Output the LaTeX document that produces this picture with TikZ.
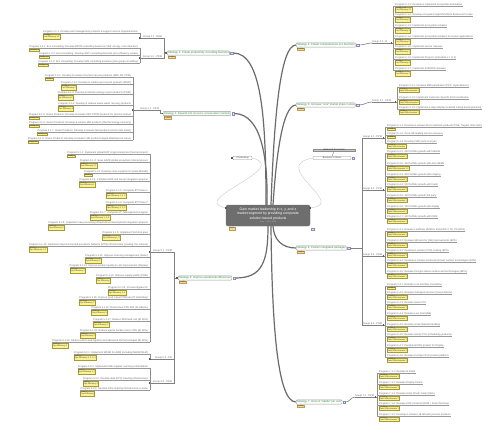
\documentclass[tikz,border=0pt]{standalone}
\usepackage{fontspec}
\setmainfont{Liberation Sans}
\definecolor{tagfill}{HTML}{FAF39A}
\definecolor{tagedge}{HTML}{A89C30}
\definecolor{stagfill}{HTML}{F3D79B}
\definecolor{stagedge}{HTML}{C49A4E}
\definecolor{stratgreen}{HTML}{2E8B2E}
\definecolor{cfill}{HTML}{6E6E6E}
\tikzset{
  prog/.style={font=\fontsize{2.5}{2.8}\selectfont, text=black!60, inner sep=0.15pt, outer sep=0pt},
  tagb/.style={font=\fontsize{2}{2.3}\selectfont, fill=tagfill, draw=tagedge, line width=0.35pt, inner sep=0.55pt, align=left, text=black!75},
  pline/.style={draw=black!40, line width=0.35pt},
  gline/.style={draw=black!50, line width=0.45pt},
  brk/.style={draw=black!45, line width=0.55pt},
  conn/.style={draw=black!50, line width=0.6pt},
  strat/.style={draw=black!40, fill=white, rounded corners=0.8pt, line width=0.4pt, font=\fontsize{2.7}{3}\selectfont, text=stratgreen, inner sep=0.8pt},
  stag/.style={fill=stagfill, draw=stagedge, line width=0.3pt, font=\fontsize{1.9}{2.1}\selectfont, inner sep=0.5pt, text=black!75},
  mainl/.style={draw=black!58, line width=1.2pt},
  thinl/.style={draw=black!18, line width=0.5pt},
  sqr/.style={fill=black!65, minimum size=1.8pt, inner sep=0pt, outer sep=0pt},
  icn/.style={fill=blue!12, draw=blue!35!black!45, line width=0.25pt, minimum size=2.6pt, inner sep=0pt},
  posn/.style={draw=black!45, fill=white, line width=0.35pt, rounded corners=0.5pt, font=\fontsize{2.4}{2.7}\selectfont, text=black!70, inner sep=0.6pt},
}
\newcommand{\LProg}[5]{%
  \node[prog, anchor=south east] (#1) at ({#2-2},#3) {#4};
  \node[tagb, anchor=north west] (#1t) at ([yshift=-0.5pt]#1.south west) {#5};
  \draw[pline] (#1.south west) -- (#2,#3);
}
\newcommand{\RProg}[5]{%
  \node[prog, anchor=south west] (#1) at ({#2+2},#3) {#4};
  \node[tagb, anchor=north west] (#1t) at ([yshift=-0.5pt]#1.south west) {#5};
  \draw[pline] (#2,#3) -- (#1.south east);
}
\newcommand{\LGrp}[5]{%
  \node[prog, anchor=south east] (#1) at (#3,#4) {#5};
  \draw[gline] (#2,#4) -- (#1.south east);
  \node[sqr] (#1s) at (#2,#4) {};
}
\newcommand{\RGrp}[5]{%
  \node[prog, anchor=south west] (#1) at (#2,#4) {#5};
  \draw[gline] (#1.south west) -- (#3,#4);
  \node[sqr] (#1s) at ({#3-1.5},#4) {};
}
\newcommand{\Strat}[4]{%
  \node[strat, anchor=west] (#1) at (#2,#3) {#4};
  \node[stag, anchor=north west] (#1t) at ([xshift=0.8pt,yshift=-0.5pt]#1.south west) {Enabler};
  \node[icn] (#1ic) at ([xshift=2pt]#1.east) {};
}
\begin{document}
\begin{tikzpicture}[x=1pt,y=-1pt]
\useasboundingbox (0,0) rectangle (500,431);
\fill[white] (0,0) rectangle (500,431);

% ---------- central node ----------
\node[fill=cfill, draw=black!55, line width=0.4pt, rounded corners=2pt, minimum width=84pt, minimum height=21pt, inner sep=0.5pt, align=center, text=white, font=\fontsize{3.5}{4.1}\selectfont] (c) at (268,215.5)
 {Gain market leadership in x, y, and z\\market segment by providing composite\\solution based products\\[-0.4pt]{\fontsize{1.9}{2.2}\selectfont\color{black!25}4 hrs \quad Feb 1 2013}};
\node[stag, anchor=north west] (ct) at ([xshift=3pt,yshift=-0.6pt]c.south west) {Key 1};
\node[icn] (cic) at ([xshift=2.5pt,yshift=-3pt]c.south east) {};
\node[sqr] (cl) at ([yshift=-3pt]c.north west) {};
\node[sqr] (cr) at ([yshift=-3pt]c.north east) {};

% ---------- side nodes ----------
\node[posn, minimum width=19pt] (pos) at (242.5,158) {Positioning};
\node[sqr] (posq) at ([xshift=-1.2pt]pos.west) {};
\node[posn, minimum width=38pt] (bc) at (332,158) {Business Criteria};
\node[icn] (bcic) at ([xshift=2pt]bc.east) {};
\node[fill=black!22, draw=black!45, line width=0.3pt, inner sep=0.5pt, minimum width=42pt, font=\fontsize{2.3}{2.6}\selectfont, text=black!80] (bs) at (334,150) {Balanced Scorecard};
\draw[black!50, line width=0.35pt] (bs.south) -- (bc.north);
\draw[thinl] (pos.east) .. controls (292,168) and (188,200) .. (cl);
\draw[thinl] (bc.west) .. controls (268,166) and (348,204) .. (cr);

% ---------- strategies ----------
\Strat{s1}{167}{53}{Strategy 1: Create productivity consulting business}
\Strat{s4}{163}{113.5}{Strategy 4: Expand into resource conservation markets}
\Strat{s5}{178}{278}{Strategy 5: Improve operational efficiencies}
\Strat{s2}{296}{45}{Strategy 2: Create comprehensive eco business}
\Strat{s3}{296}{105}{Strategy 3: Increase "core" market share in Asia}
\Strat{s6}{296}{248}{Strategy 6: Position integrated packages}
\Strat{s7}{296}{402}{Strategy 7: Grow in "Adobe" per cent}
\node[sqr] (s1q) at ([xshift=-1pt]s1.west) {};
\node[sqr] (s4q) at ([xshift=-1pt]s4.west) {};
\node[sqr] (s5q) at ([xshift=-1pt]s5.west) {};

% ---------- main connectors ----------
\draw[mainl] ([xshift=-2pt]c.north) .. controls (266,120) and (262,53) .. (s1ic.east);
\draw[mainl] ([xshift=-1pt]c.north) .. controls (268,160) and (262,114) .. (s4ic.east);
\draw[mainl] ([xshift=3pt]c.north) .. controls (274,120) and (280,45) .. (s2.west);
\draw[mainl] ([xshift=5pt]c.north) .. controls (276,160) and (282,105) .. (s3.west);
\draw[mainl] ([xshift=0pt]c.south) .. controls (268,262) and (262,278) .. (s5ic.east);
\draw[mainl] ([xshift=5pt]c.south) .. controls (274,240) and (282,248) .. (s6.west);
\draw[mainl] ([xshift=3pt]c.south) .. controls (272,330) and (278,402) .. (s7.west);
\node[icn] at (s1ic) {};
\node[icn] at (s4ic) {};
\node[icn] at (s5ic) {};

% ================= LEFT SIDE =================
% Strategy 1 groups
\LGrp{g11}{140}{162}{38}{Group 1.1 - R\&D}
\LGrp{g12}{140}{162}{58}{Group 1.2 - PDM}
\coordinate (j1) at (164.5,53);
\draw[conn] (g11.south east) -| (j1) |- (g12.south east);
\draw[conn] (j1) -- (s1q);
\draw[brk] (140,33) -- (140,38);
\draw[brk] (140,48) -- (140,63);
\LProg{p111}{140}{33}{Program 1.1.1: Develop and management products \& support service implementation}{Group 4\\Fac Efficiency 1.1}
\LProg{p121}{140}{48}{Program 1.2.1: Eco Consulting: Develop BPCM consulting business (staff, energy, cost reduction)}{Group 1.1}
\LProg{p122}{140}{55}{Program 1.2.2: Eco Consulting: Develop SMT consulting business (eco efficiency review)}{Group 1.2}
\LProg{p123}{140}{63}{Program 1.2.3: Eco Consulting: Develop SPS consulting business (plus group consulting)}{Group 1.3}

% Strategy 4 groups
\LGrp{g41}{133}{159}{110}{Group 4.1 - PPM}
\draw[conn] (g41.south east) -- ++(1.5,0) |- (s4q);
\draw[brk] (133,77) -- (133,140);
\LProg{p411}{133}{77}{Program 4.1.1: Develop \& release chemical recycle products (MAV, RF, PPM)}{Group 3}
\LProg{p412}{133}{84}{Program 4.1.2: Develop \& release gas recycle products (MGD)}{Group 2\\Fac Efficiency 2}
\LProg{p413}{133}{94}{Program 4.1.3: Develop \& release energy recycle products (PDM)}{Group 2\\Fac Efficiency 2}
\LProg{p414}{133}{105}{Program 4.1.4: Develop \& release waste water recovery products}{Group 2\\Fac Efficiency 3}
\LProg{p415}{133}{116}{Program 4.1.5: Green Products: Develop \& release NET PPDM products for (enviro) market}{Group 3.1}
\LProg{p416}{133}{124}{Program 4.1.6: Green Products: Develop \& release SMI products (thermal energy recovery)}{Group 3.2}
\LProg{p417}{133}{132}{Program 4.1.7: Green Products: Develop \& release NHI products (smart safe mode)}{Group 3.3}
\LProg{p418}{133}{140}{Program 4.1.8: Green Products: Develop \& release LNR products (liquid abatement \& reuse)}{Group 3.4}

% Strategy 5 groups
\LGrp{g51}{150}{172}{252}{Group 5.1 - PPM}
\LGrp{g52}{150}{172}{359}{Group 5.2 - PD}
\LGrp{g53}{150}{172}{383}{Group 5.3 - PDM}
\draw[conn] (g51.south east) -- (174,252) -- (174,383) -- (g53.south east);
\draw[conn] (174,359) -- (g52.south east);
\draw[conn] (174,278) -- (s5q);
\draw[brk] (150,154) -- (150,342);
\draw[brk] (150,354) -- (150,359);
\draw[brk] (150,368) -- (150,390);
\LProg{p511}{150}{154}{Program 5.1.1: Implement global ERP single Enterprise (Internal project)}{Group 4}
\LProg{p512}{150}{162}{Program 5.1.2: Grow SAPR global ecosystem internal project}{Goal 14\\Ops Efficiency 2.1}
\LProg{p513}{150}{173}{Program 5.1.3: Develop class suppliers for (ease MGSM)}{Goal 14}
\LProg{p514}{150}{181}{Program 5.1.4: Complete ERP and server integration projects}{Goal 14\\Ops Efficiency 1}
\LProg{p515}{150}{192}{Program 5.1.5: Complete BT Phase 1}{Goal 14\\Ops Efficiency 1, 2, 3}
\LProg{p516}{150}{204}{Program 5.1.6: Complete BT Phase 2}{Goal 14\\Ops Efficiency 1, 2, 3}
\LProg{p517}{150}{214}{Program 5.1.7: Complete (IT) Management program}{Goal 14\\Ops Efficiency 1, 2, 3}
\LProg{p518}{150}{224}{Program 5.1.8: Implement new processing infrastructure development integration projects}{Goal 14\\Ops Efficiency 2}
\LProg{p519}{150}{234}{Program 5.1.9: Implement Tech Ent area}{Goal 14\\Ops Efficiency 1, 2}
\LProg{p5110}{150}{246}{Program 5.1.10: Implement Supt Connected processes Network (MTN) Infrastructure (reading, the internal)}{Goal 14\\Ops Efficiency 1, 2}
\LProg{p5111}{150}{257}{Program 5.1.11: Improve inventory management (Asian)}{Goal 14\\Ops Efficiency 1}
\LProg{p5112}{150}{267}{Program 5.1.12: Improve product quality \& cost improvement (Display)}{Goal 14\\Ops Efficiency 2}
\LProg{p5113}{150}{277}{Program 5.1.13: Improve supply quality (PRM)}{Goal 3\\Ops Efficiency}
\LProg{p5114}{150}{289}{Program 5.1.14: Process Bypass IP}{Goal 14\\Ops Efficiency 2, 4}
\LProg{p5115}{150}{299}{Program 5.1.15: Improve (red) output PRB rate (IT-stretching)}{Goal 14\\Ops Efficiency 2}
\LProg{p5116}{150}{309}{Program 5.1.16: Restructure PSS-PMI (SI-Alberto)}{Goal 14\\Ops Efficiency 2}
\LProg{p5117}{150}{321}{Program 5.1.17: Reduce 30W lead cost (EI 80\%)}{Goal 14\\Ops Efficiency 1}
\LProg{p5118}{150}{332}{Program 5.1.18: Reduce agents burden rate to 30\% (EI 80\%)}{Goal 14\\Ops Efficiency 2}
\LProg{p5119}{150}{342}{Program 5.1.19: Reduce end to end logistics and advanced PM technologies (EI 80\%)}{Goal 14\\Ops Efficiency 2}
\LProg{p521}{150}{354}{Program 5.2.1: Implement MAXM for ARM (including MAXM MLM)}{Goal 14\\Ops Efficiency 1, 2, 3, 4}
\LProg{p531}{150}{368}{Program 5.3.1: Implement Multi-supplier sourcing at Rotterdam}{Goal 3\\Ops Efficiency 1, 2}
\LProg{p532}{150}{380}{Program 5.3.2: Develop data (DFS) cleaning infrastructure}{Goal 3\\Ops Efficiency 2}
\LProg{p533}{150}{390}{Program 5.3.3: Develop DFS cleaning infrastructure in Asian}{Goal 3\\Ops Efficiency}

% ================= RIGHT SIDE =================
% Strategy 2
\RGrp{g21}{372}{393}{43}{Group 2.1 - R}
\draw[conn] (s2ic.east) to[out=0,in=180] (g21.south west);
\draw[brk] (393,6) -- (393,70);
\RProg{p211}{393}{6}{Program 2.1.1: Develop \& implement ecosystem Automation}{Group 2.1.6\\Fac Efficiency 2.1}
\RProg{p212}{393}{16}{Program 2.1.2: Develop ecosystem Algorithm/Work Business Process}{Group 2\\Fac Efficiency 2}
\RProg{p213}{393}{27}{Program 2.1.3: Implement ecosystem releases}{Group 2\\Fac Efficiency 1}
\RProg{p214}{393}{38}{Program 2.1.4: Implement ecosystem releases for sensor applications}{Group 2\\Fac Efficiency 2}
\RProg{p215}{393}{48}{Program 2.1.5: Implement sensor releases}{Group 2\\Fac Efficiency 1}
\RProg{p216}{393}{59}{Program 2.1.6: Implement Project x (transition x 1 to 2)}{Group 2\\Fac Efficiency 2}
\RProg{p217}{393}{70}{Program 2.1.7: Implement 3000SSD releases}{Group 2\\Fac Efficiency 1}

% Strategy 3
\RGrp{g31}{372}{397}{102}{Group 3.1 - PPM}
\draw[conn] (s3ic.east) to[out=0,in=180] (g31.south west);
\draw[brk] (397,87) -- (397,109);
\RProg{p311}{397}{87}{Program 3.1.1: Increase MMI penetration (PPC, Hymo Motors)}{Group 5\\Sales Effectiveness 1}
\RProg{p312}{397}{99}{Program 3.1.2: Implement Customer Specific Parts localization}{Group 5\\Sales Effectiveness 2}
\RProg{p313}{397}{109}{Program 3.1.3: Implement 4-align display localized 4-Engl bar/engineering}{Group 5\\Sales Effectiveness 1}

% Strategy 6
\draw[conn] (s6ic.east) -- (362,248);
\draw[conn] (362,138) -- (362,325);
\RGrp{g61}{363}{385}{138}{Group 6.1 - PPM}
\RGrp{g62}{363}{385}{190}{Group 6.2 - PPM}
\RGrp{g63}{363}{385}{256}{Group 6.3 - PDM}
\RGrp{g64}{363}{385}{325}{Group 6.4 - PDM}
\draw[conn] (362,138) -- (g61.south west);
\draw[conn] (362,190) -- (g62.south west);
\draw[conn] (362,256) -- (g63.south west);
\draw[conn] (362,325) -- (g64.south west);
\draw[brk] (385,127) -- (385,143);
\draw[brk] (385,153) -- (385,218);
\draw[brk] (385,231) -- (385,273);
\draw[brk] (385,286) -- (385,357);
\RProg{p611}{385}{127}{Program 6.1.1: Develop \& release direct materials products (PSE, Targets, Wire Gds)}{Group 6}
\RProg{p612}{385}{135}{Program 6.1.2: Grow SB leading service revenues}{Group 6}
\RProg{p613}{385}{143}{Program 6.1.3: Develop CMP parts next gen}{Group 6\\Sales Effectiveness}
\RProg{p621}{385}{153}{Program 6.2.1: 3D Portfolio growth with fabmills}{Group 6\\Sales Effectiveness 1}
\RProg{p622}{385}{165}{Program 6.2.2: 3D Portfolio growth with Asia OEMs}{Group 6\\Sales Effectiveness 1.2}
\RProg{p623}{385}{176}{Program 6.2.3: 3D Portfolio growth with imaging}{Group 6\\Sales Effectiveness 1}
\RProg{p624}{385}{186}{Program 6.2.4: 3D Portfolio growth with foods}{Group 6\\Sales Effectiveness 1}
\RProg{p625}{385}{197}{Program 6.2.5: 3D Portfolio growth 3rd party}{Group 6\\Sales Effectiveness 1}
\RProg{p626}{385}{208}{Program 6.2.6: 3D Portfolio growth with display}{Group 6\\Sales Effectiveness 1}
\RProg{p627}{385}{218}{Program 6.2.7: 3D Portfolio growth with DRM}{Group 6\\Sales Effectiveness 1}
\RProg{p631}{385}{231}{Program 6.3.1: Release LearRiser PMM for EnSorFib X Tie, PS (EPS)}{Group 7\\Sales Effectiveness 1}
\RProg{p632}{385}{242}{Program 6.3.2: Release SB tools for (fail) improvements (EPS)}{Group 7\\Sales Effectiveness 1}
\RProg{p633}{385}{252}{Program 6.3.3: Develop \& release (CSS) coating (EPS)}{Group 7\\Sales Effectiveness 1}
\RProg{p634}{385}{262}{Program 6.3.4: Develop \& release advanced (smart) surface technologies (EPS)}{Group 7\\Sales Effectiveness 1}
\RProg{p635}{385}{273}{Program 6.3.5: Release 2nd gen dense surface and technologies (EPS)}{Group 7\\Sales Effectiveness 1}
\RProg{p641}{385}{286}{Program 6.4.1: Release core interface foundation}{Group 8}
\RProg{p642}{385}{294}{Program 6.4.2: Release managed services (new products)}{Group 8\\Sales Effectiveness 1}
\RProg{p643}{385}{304}{Program 6.4.3: Release Swire PLS}{Group 8\\Sales Effectiveness 1}
\RProg{p644}{385}{315}{Program 6.4.4: Release Low Cost NME}{Group 8\\Sales Effectiveness 1}
\RProg{p645}{385}{326}{Program 6.4.5: Release small material handling}{Group 8\\Sales Effectiveness 1}
\RProg{p646}{385}{336}{Program 6.4.6: Release Sentry PLS (scheduling products)}{Group 8\\Sales Effectiveness 1}
\RProg{p647}{385}{347}{Program 6.4.7: Peripheral MAS product for Display}{Group 8\\Sales Effectiveness 1}
\RProg{p648}{385}{357}{Program 6.4.8: Release Compact PLS product platform}{Group 8\\Sales Effectiveness 1}

% Strategy 7
\RGrp{g71}{355}{377}{397}{Group 7.1 - PPM}
\draw[conn] (s7ic.east) to[out=0,in=180] (g71.south west);
\draw[brk] (377,373) -- (377,416);
\RProg{p711}{377}{373}{Program 7.1.1: Release N Dilute}{Group 9\\Sales Effectiveness 1}
\RProg{p712}{377}{384}{Program 7.1.2: Release Display Kinetic}{Group 9\\Sales Effectiveness 1}
\RProg{p713}{377}{395}{Program 7.1.3: Release Solar Kinetic Solar (NHS)}{Group 9\\Sales Effectiveness 1}
\RProg{p714}{377}{405}{Program 7.1.4: Release CRP products (RAM + Solar Directive)}{Group 9\\Sales Effectiveness 1}
\RProg{p715}{377}{416}{Program 7.1.5: Develop \& release L/E fab with process products}{Group 9\\Sales Effectiveness 1}
\end{tikzpicture}
\end{document}
